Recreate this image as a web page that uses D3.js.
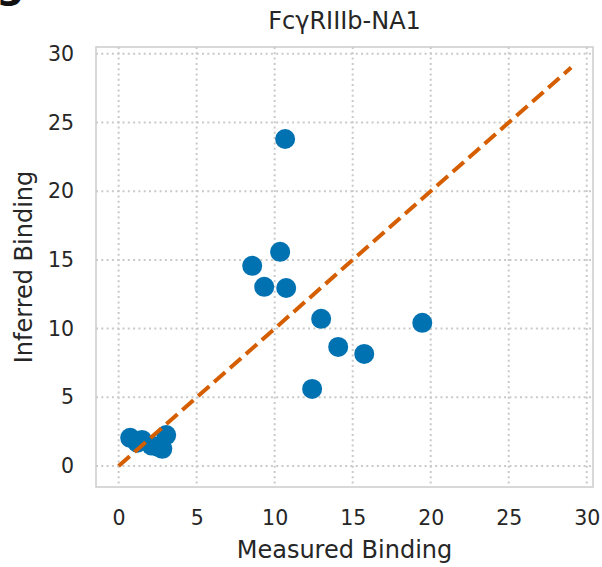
<!DOCTYPE html>
<html>
<head>
<meta charset="utf-8">
<script src="https://cdn.jsdelivr.net/npm/d3@7"></script>
<style>
  html, body { margin: 0; padding: 0; background: #fff; }
  svg { display: block; font-family: "DejaVu Sans", sans-serif; }
</style>
</head>
<body>
<svg id="chart" width="602" height="567"></svg>
<script>
// Measured vs inferred binding for FcγRIIIb-NA1
const measured = [0.74, 1.2, 1.5, 2.1, 2.5, 2.8, 3.05, 8.56, 9.33, 10.35, 10.67, 10.74, 12.40, 12.98, 14.07, 15.74, 19.46];
const inferred = [2.05, 1.7, 1.9, 1.5, 1.4, 1.25, 2.25, 14.57, 13.04, 15.59, 23.8, 12.96, 5.61, 10.71, 8.67, 8.16, 10.42];
const xTicks = [0, 5, 10, 15, 20, 25, 30];
const yTicks = [0, 5, 10, 15, 20, 25, 30];
const identityLine = [0, 29];

const svg = d3.select("#chart");
const frame = { left: 96, right: 593, top: 47, bottom: 487 };

const x = d3.scaleLinear().domain([-1.45, 30.4]).range([frame.left, frame.right]);
const y = d3.scaleLinear().domain([-1.53, 30.5]).range([frame.bottom, frame.top]);

// Panel letter, mostly above the canvas
svg.append("text")
  .attr("x", -4).attr("y", -3)
  .attr("font-size", 40).attr("font-weight", "bold")
  .attr("fill", "#111")
  .text("g");

// Grid lines
const grid = svg.append("g").attr("stroke", "#c9c9c9").attr("stroke-width", 2)
  .attr("stroke-dasharray", "2,3.3");
grid.selectAll("line.vx").data(xTicks).join("line")
  .attr("x1", d => x(d)).attr("x2", d => x(d))
  .attr("y1", frame.top).attr("y2", frame.bottom);
grid.selectAll("line.hy").data(yTicks).join("line")
  .attr("x1", frame.left).attr("x2", frame.right)
  .attr("y1", d => y(d)).attr("y2", d => y(d));

// Frame
svg.append("rect")
  .attr("x", frame.left).attr("y", frame.top)
  .attr("width", frame.right - frame.left).attr("height", frame.bottom - frame.top)
  .attr("fill", "none").attr("stroke", "#cccccc").attr("stroke-width", 1.5);

// Axes (labels only; tick marks hidden)
const xAxis = svg.append("g")
  .attr("transform", `translate(0,${frame.bottom})`)
  .call(d3.axisBottom(x).tickValues(xTicks).tickSize(0).tickPadding(23));
const yAxis = svg.append("g")
  .attr("transform", `translate(${frame.left},0)`)
  .call(d3.axisLeft(y).tickValues(yTicks).tickSize(0).tickPadding(22));
[xAxis, yAxis].forEach(a => {
  a.select(".domain").remove();
  a.selectAll("text")
    .attr("font-family", "DejaVu Sans, sans-serif")
    .attr("font-size", 20.5).attr("fill", "#262626");
});

// Scatter points
svg.append("g").selectAll("circle")
  .data(measured.map((m, i) => [m, inferred[i]]))
  .join("circle")
  .attr("cx", d => x(d[0])).attr("cy", d => y(d[1]))
  .attr("r", 10)
  .attr("fill", "#0072B2");

// Identity reference line
svg.append("line")
  .attr("x1", x(identityLine[0])).attr("y1", y(identityLine[0]))
  .attr("x2", x(identityLine[1])).attr("y2", y(identityLine[1]))
  .attr("stroke", "#D55E00").attr("stroke-width", 4)
  .attr("stroke-dasharray", "14.8,6.4");

// Title and axis labels
svg.append("text")
  .attr("x", (frame.left + frame.right) / 2).attr("y", 29)
  .attr("text-anchor", "middle").attr("font-size", 24).attr("fill", "#262626")
  .text("FcγRIIIb-NA1");
svg.append("text")
  .attr("x", (frame.left + frame.right) / 2).attr("y", 558)
  .attr("text-anchor", "middle").attr("font-size", 24).attr("fill", "#262626")
  .text("Measured Binding");
svg.append("text")
  .attr("transform", `translate(32,${(frame.top + frame.bottom) / 2}) rotate(-90)`)
  .attr("text-anchor", "middle").attr("font-size", 24).attr("fill", "#262626")
  .text("Inferred Binding");
</script>
</body>
</html>
